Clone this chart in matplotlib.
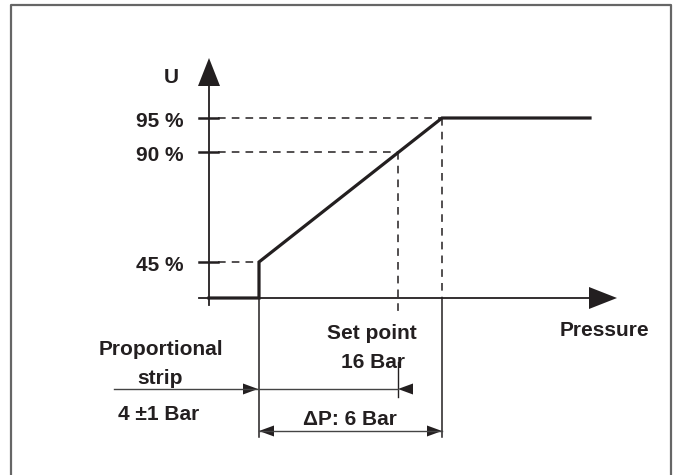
import matplotlib.pyplot as plt
from matplotlib.patches import Polygon

# diagram coordinates (pixels of the original sheet, y grows downward)
axis_x0, axis_y0 = 209, 298
level_labels = ["95 %", "90 %", "45 %"]
level_y = [118, 152, 262]
level_end_x = [442, 398, 259]

curve_x = [209, 259, 259, 442, 590]
curve_y = [298, 298, 262, 118, 118]

setpoint_x = 398
start_x = 259
end_x = 442

ink = "#231f20"
font = dict(family=["Liberation Sans", "DejaVu Sans"], fontweight="bold",
            fontsize=15, color=ink)

fig = plt.figure(figsize=(6.76, 4.75), dpi=100)
ax = fig.add_axes([0, 0, 1, 1])
ax.set_xlim(0, 676)
ax.set_ylim(475, 0)
ax.axis("off")

# frame
ax.plot([11, 11, 671, 671], [480, 5, 5, 480], color="#666666", lw=1.6)


def tri(pts):
    ax.add_patch(Polygon(pts, closed=True, color=ink, lw=0))


# axes
ax.plot([axis_x0, axis_x0], [305, 86], color=ink, lw=1.3)
ax.plot([199, 590], [axis_y0, axis_y0], color=ink, lw=1.3)
tri([(198, 86), (220, 86), (209, 58)])
tri([(589, 287), (589, 309), (617, 298)])

# levels: ticks, dashed guides, labels
for lab, y, xe in zip(level_labels, level_y, level_end_x):
    ax.plot([199, 218], [y, y], color=ink, lw=1.8)
    ax.plot([218, xe], [y, y], color=ink, lw=1.1, ls=(0, (5, 4)))
    ax.text(184, y + 9, lab, ha="right", va="baseline", **font)

ax.text(171, 83, "U", ha="center", va="baseline", **font)

# characteristic curve
ax.plot(curve_x, curve_y, color=ink, lw=2.3, solid_joinstyle="miter")

# vertical dashed guides
ax.plot([setpoint_x, setpoint_x], [152, 312], color=ink, lw=1.1, ls=(0, (5, 4)))
ax.plot([end_x, end_x], [118, 298], color=ink, lw=1.1, ls=(0, (5, 4)))

# dimension lines
ax.plot([start_x, start_x], [298, 437], color=ink, lw=1.1)
ax.plot([end_x, end_x], [298, 437], color=ink, lw=1.1)
ax.plot([setpoint_x, setpoint_x], [362, 397], color=ink, lw=1.0)

ax.plot([114, setpoint_x], [389, 389], color="#444444", lw=1.0)
tri([(243, 383.5), (243, 394.5), (258, 389)])
tri([(413, 383.5), (413, 394.5), (398, 389)])

ax.plot([start_x, end_x], [431, 431], color="#444444", lw=1.0)
tri([(274, 425.5), (274, 436.5), (259, 431)])
tri([(427, 425.5), (427, 436.5), (442, 431)])

# labels
ax.text(604, 336, "Pressure", ha="center", va="baseline", **font)
ax.text(372, 339, "Set point", ha="center", va="baseline", **font)
ax.text(373, 368, "16 Bar", ha="center", va="baseline", **font)
ax.text(161, 355, "Proportional", ha="center", va="baseline", **font)
ax.text(160, 384, "strip", ha="center", va="baseline", **font)
ax.text(159, 420, "4 \u00b11 Bar", ha="center", va="baseline", **font)
ax.text(350, 425, "\u0394P: 6 Bar", ha="center", va="baseline", **font)

fig.savefig("out.png", dpi=100)
